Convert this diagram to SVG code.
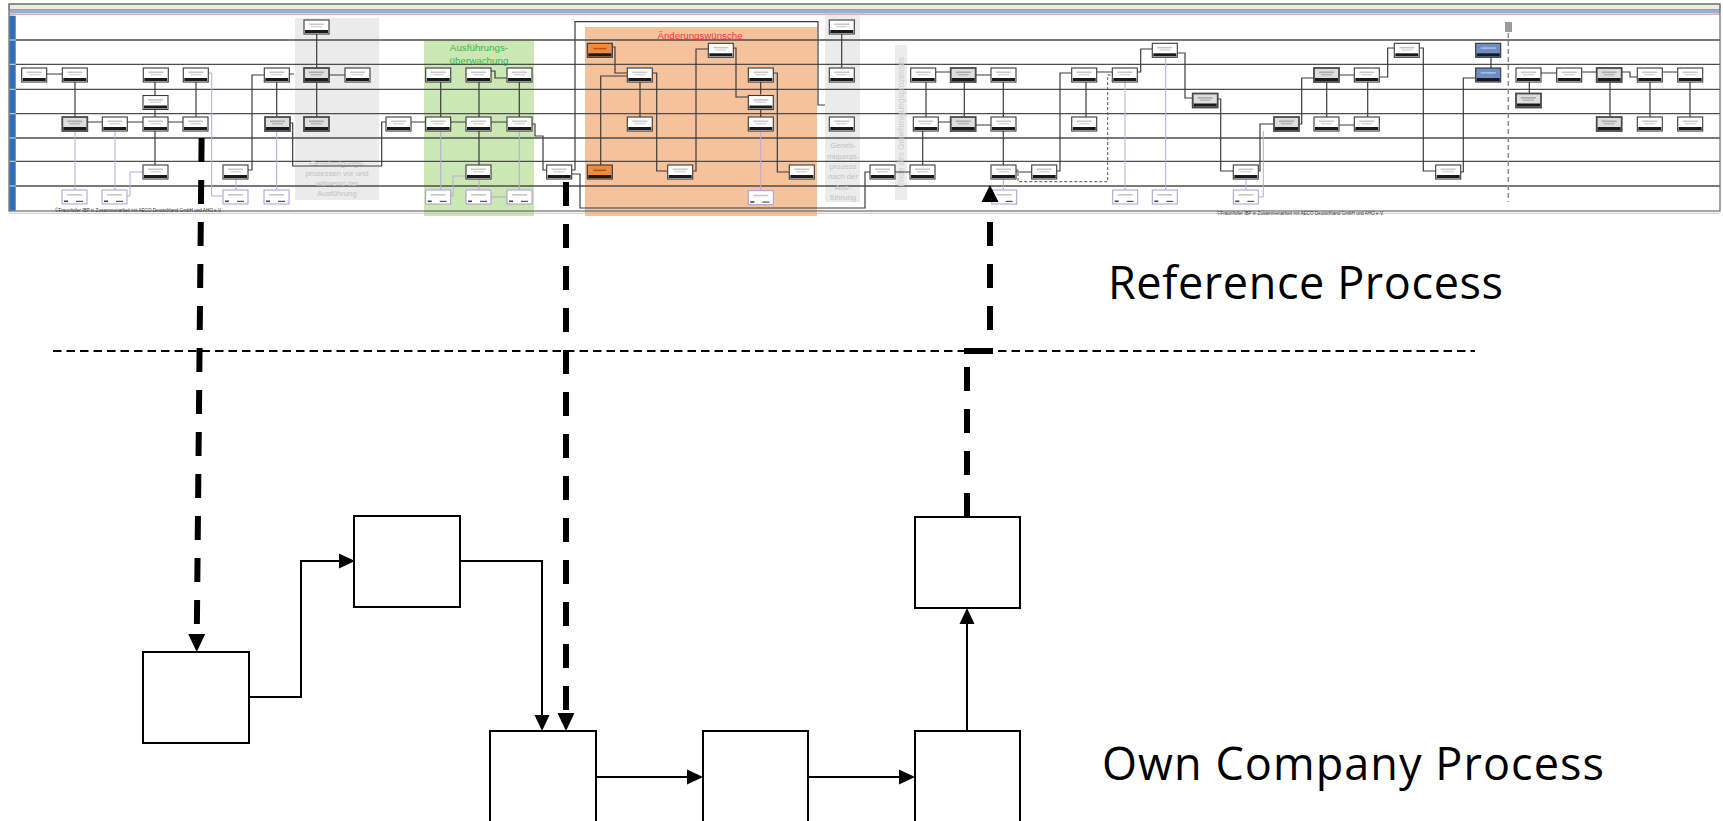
<svg xmlns="http://www.w3.org/2000/svg" xmlns:xlink="http://www.w3.org/1999/xlink" width="1723" height="821" viewBox="0 0 1723 821">
<defs>
<style>
.lane{stroke:#4d4d4d;stroke-width:1.3;fill:none}
.cn{stroke:#3c3c3c;stroke-width:1.2;fill:none}
.lv{stroke:#b7a9dc;stroke-width:1;fill:none}
.cnd{stroke:#555;stroke-width:1;fill:none;stroke-dasharray:3 2}
.nd{fill:#fff;stroke:#000;stroke-width:2}
.arr{stroke:#000;stroke-width:2;fill:none}
.bd{stroke:#000;stroke-width:6;fill:none;stroke-dasharray:24 18}
.hd{stroke:#000;stroke-width:1.8;fill:none;stroke-dasharray:8.5 5}
.big{font-family:"Open Sans","Noto Sans","Liberation Sans",sans-serif;font-size:45px;fill:#000}
.gt{font-family:"Liberation Sans",Arial,sans-serif;font-size:7.7px;fill:#c2c2c2;text-anchor:middle}
.cp{font-family:"Liberation Sans",Arial,sans-serif;font-size:4.6px;fill:#333}
</style>
<g id="bn"><rect width="25" height="14" fill="#fff" stroke="#3a3a3a" stroke-width="1.1"/><rect x="1" y="10" width="23" height="3" fill="#1a1a1a"/><rect x="5" y="3.5" width="15" height="1.6" fill="#c8c8c8"/><rect x="7" y="6" width="11" height="1.4" fill="#d6d6d6"/></g>
<g id="bg"><rect width="25" height="14" fill="#dedede" stroke="#4a4a4a" stroke-width="1.8"/><rect x="1" y="10" width="23" height="3" fill="#1a1a1a"/><rect x="5" y="3.5" width="15" height="1.6" fill="#aaa"/><rect x="7" y="6" width="11" height="1.4" fill="#b4b4b4"/></g>
<g id="bl"><rect width="25" height="14" fill="#fff" stroke="#a99ad6" stroke-width="1"/><rect x="2" y="10.5" width="4" height="1.6" fill="#444"/><rect x="14" y="10.8" width="7" height="1.1" fill="#444"/><rect x="5" y="4" width="15" height="1.6" fill="#c8c8c8"/></g>
<g id="bo"><rect width="25" height="14" fill="#f08a3c" stroke="#333" stroke-width="1.1"/><rect x="1" y="10" width="23" height="3" fill="#1a1a1a"/><rect x="6" y="4.5" width="13" height="1.6" fill="#b35a1a"/></g>
<g id="bb"><rect width="25" height="14" fill="#6e8fc4" stroke="#333" stroke-width="1.1"/><rect x="1" y="10" width="23" height="3" fill="#1a1a1a"/><rect x="5" y="4" width="15" height="1.6" fill="#a9bde0"/></g>
</defs>
<rect width="1723" height="821" fill="#fff"/>

<g id="reference-process-map">
  <rect x="9" y="4" width="1711" height="5.5" fill="#e7f0de" stroke="#777" stroke-width="0.8"/>
  <rect x="9" y="9.5" width="1711" height="4" fill="#98afd2"/>
  <line x1="9" y1="14.4" x2="1720" y2="14.4" stroke="#d8a49c" stroke-width="1"/>
  <rect id="area-genehmigung-vor" x="295" y="18" width="84" height="182" fill="#ebebeb"/>
  <rect id="area-ausfuehrung" x="424" y="40" width="110" height="176" fill="#cbe7b4"/>
  <rect id="area-aenderung" x="585" y="27" width="232" height="189" fill="#f6c29b"/>
  <rect id="area-genehmigung-nach" x="825" y="15" width="35" height="187" fill="#ebebeb"/>
  <rect id="area-ende" x="895" y="45" width="12" height="155" fill="#ececec"/>
  <rect x="9.3" y="15.7" width="6.4" height="195" fill="#2f6fb5"/>
  <g stroke="#fff" stroke-width="0.8"><line x1="9.3" y1="40" x2="15.7" y2="40"/><line x1="9.3" y1="64.3" x2="15.7" y2="64.3"/><line x1="9.3" y1="89.3" x2="15.7" y2="89.3"/><line x1="9.3" y1="113.7" x2="15.7" y2="113.7"/><line x1="9.3" y1="138" x2="15.7" y2="138"/><line x1="9.3" y1="161.3" x2="15.7" y2="161.3"/><line x1="9.3" y1="186" x2="15.7" y2="186"/></g>
  <path class="lane" d="M15.7 40H1720M15.7 64.3H1720M15.7 89.3H1720M15.7 113.7H1720M15.7 138H1720M15.7 161.3H1720M15.7 186H1720"/>
  <rect x="9" y="4" width="1711" height="207" fill="none" stroke="#6a6a6a" stroke-width="1.2"/>
  <line x1="9" y1="213.3" x2="1720" y2="213.3" stroke="#bbb" stroke-width="0.8"/>
  <text class="gt" x="337" y="166">Genehmigungs-</text>
  <text class="gt" x="337" y="176">prozessen vor und</text>
  <text class="gt" x="337" y="186">während der</text>
  <text class="gt" x="337" y="196">Ausführung</text>
  <text class="gt" x="843" y="148">Geneh-</text>
  <text class="gt" x="843" y="158.5">migungs-</text>
  <text class="gt" x="843" y="169">prozess</text>
  <text class="gt" x="843" y="179">nach der</text>
  <text class="gt" x="843" y="189.5">Aus-</text>
  <text class="gt" x="843" y="199.5">führung</text>
  <text class="gt" transform="translate(904 122) rotate(-90)" style="font-size:8.2px;fill:#cdcdcd">Ende des Genehmigungsprozesses</text>
  <text x="479" y="51" style="font-family:'Liberation Sans',Arial,sans-serif;font-size:9.8px;fill:#3cb54a;text-anchor:middle">Ausführungs-</text>
  <text x="479" y="63.5" style="font-family:'Liberation Sans',Arial,sans-serif;font-size:9.8px;fill:#3cb54a;text-anchor:middle">überwachung</text>
  <text x="700" y="38.5" style="font-family:'Liberation Sans',Arial,sans-serif;font-size:9.7px;fill:#e8393b;text-anchor:middle">Änderungswünsche</text>
  <text class="cp" x="55" y="212.3">©Fraunhofer IBP in Zusammenarbeit mit AECO Deutschland GmbH und AHO e.V.</text>
  <text class="cp" x="1217" y="215">©Fraunhofer IBP in Zusammenarbeit mit AECO Deutschland GmbH und AHO e.V.</text>

  <g id="map-connectors">
    <path class="lv" d="M75 131V190M115 131V190M127 196H130V172H143M208.3 73H211.7V196H223M236 179V190M276.7 131V190M440.7 131V190M479 179V190M519.3 131V190M450.7 196H453V176H466M491 197H507M760.7 131V190.7M1003.3 179V190M1125 82V190M1165.7 57V190M1246 179V190M1258.3 197H1263.3V131"/>
    <path class="cn" d="M45.7 74H62.3M75 82V117M87.3 122H102.3M127.3 122H143M168 122H183M155 82V95.5M155 109.5V117M155 131V165M196 82V117M248 170H252V75H264.3M276.7 82V117M289.3 74H294M290 123H292.7V166H381.7V122H386"/>
    <path class="cn" d="M316.7 33V68M316.7 82V117M329 75H345M410 122H425.7M450.7 122H466M491 122H507M440.7 82V117M479 82V117M479 131V165M519.3 82V117M491 71H495V78H507M532 124H535V136H543V170H546.7M571.7 170H575V21.7H818V105H825M571.7 174H580V208H865V172H870"/>
    <path class="cn" d="M612.3 47H615V73H627.3M627.3 76H600.7V165M640 82V117M652.3 73H656.7V171H667.7M693.3 171H696V49H708.3M733.3 48H736V97H748.3M760.7 82V94.5M760.7 108.5V117M773.3 73H777.3V172H789.3M841.7 34V68"/>
    <path class="cn" d="M894.3 172H910M926 82V117M922.7 131V165M935.7 72H950.7M975.7 75H991M938.3 122H950.7M975.7 125H991M964.3 82V117M1003.3 82V117M1003.3 131V165M1016 172H1031.7M1056.7 171H1060V73H1071.7M1086 82V117M1096.7 72H1112.3M1137.3 72H1140.7V49H1152.3"/>
    <path class="cnd" d="M1016 170H1018V181.7H1107.7V75H1112.3"/>
    <path class="cn" d="M1177.3 53H1185V98H1192.7M1218.3 99H1220.7V171H1233.3M1258.3 171H1260V124H1274M1299 124H1301.7V78H1314M1339 75H1354.3M1339 125H1354.3M1326.7 82V117M1367.7 82V117M1379.3 77H1387.7V48H1394.3"/>
    <path class="cn" d="M1419.3 48H1423.3V171H1435.7M1460.7 172H1463.3V78H1475.7M1491 57V68M1529.3 82V94M1541 73H1556.7M1581.7 72H1596.7M1621.7 72H1630V77H1637.3M1662.3 72H1677.7M1610 82V117M1650 82V117M1690 82V117"/>
    <path d="M1508.3 33V202" stroke="#8a8a8a" stroke-width="1.5" stroke-dasharray="5 3" fill="none"/>
    <rect x="1505" y="22" width="7" height="10" fill="#9a9a9a"/>
  </g>

  <g id="map-activities">
    <use xlink:href="#bn" x="21.7" y="68"/><use xlink:href="#bn" x="62.3" y="68"/><use xlink:href="#bn" x="143.3" y="68"/><use xlink:href="#bn" x="183.3" y="68"/><use xlink:href="#bn" x="264.3" y="68"/>
    <use xlink:href="#bn" x="143" y="95.5"/>
    <use xlink:href="#bg" x="62.3" y="117"/><use xlink:href="#bn" x="102.3" y="117"/><use xlink:href="#bn" x="143" y="117"/><use xlink:href="#bn" x="183" y="117"/><use xlink:href="#bg" x="265" y="117"/>
    <use xlink:href="#bn" x="143" y="165"/><use xlink:href="#bn" x="223" y="165"/>
    <use xlink:href="#bl" x="62" y="190"/><use xlink:href="#bl" x="102" y="190"/><use xlink:href="#bl" x="223" y="190"/><use xlink:href="#bl" x="264" y="190"/>

    <use xlink:href="#bn" x="304" y="20"/><use xlink:href="#bg" x="304" y="68"/><use xlink:href="#bn" x="345" y="68"/><use xlink:href="#bg" x="304" y="117"/><use xlink:href="#bn" x="386" y="117"/>
    <use xlink:href="#bn" x="425.7" y="68"/><use xlink:href="#bn" x="466" y="68"/><use xlink:href="#bn" x="507" y="68"/>
    <use xlink:href="#bn" x="425.7" y="117"/><use xlink:href="#bn" x="466" y="117"/><use xlink:href="#bn" x="507" y="117"/>
    <use xlink:href="#bn" x="466" y="165"/>
    <use xlink:href="#bl" x="425.7" y="190"/><use xlink:href="#bl" x="466" y="190"/><use xlink:href="#bl" x="507" y="190"/>
    <use xlink:href="#bn" x="546.7" y="165"/>

    <use xlink:href="#bo" x="587.3" y="43.3"/><use xlink:href="#bn" x="708.3" y="43.3"/>
    <use xlink:href="#bn" x="627.3" y="68"/><use xlink:href="#bn" x="748.3" y="68"/>
    <use xlink:href="#bn" x="748.3" y="95.5"/>
    <use xlink:href="#bn" x="627.3" y="117"/><use xlink:href="#bn" x="748.3" y="117"/>
    <use xlink:href="#bo" x="587.3" y="165"/><use xlink:href="#bn" x="667.7" y="165"/><use xlink:href="#bn" x="789.3" y="165"/>
    <use xlink:href="#bl" x="748.3" y="190.7"/>
    <use xlink:href="#bn" x="829.3" y="20"/><use xlink:href="#bn" x="829.3" y="68"/><use xlink:href="#bn" x="829.3" y="117"/>

    <use xlink:href="#bn" x="870" y="165"/><use xlink:href="#bn" x="910" y="165"/><use xlink:href="#bn" x="991" y="165"/><use xlink:href="#bn" x="1031.7" y="165"/>
    <use xlink:href="#bn" x="910.7" y="68"/><use xlink:href="#bg" x="950.7" y="68"/><use xlink:href="#bn" x="991" y="68"/><use xlink:href="#bn" x="1071.7" y="68"/><use xlink:href="#bn" x="1112.3" y="68"/>
    <use xlink:href="#bn" x="913.3" y="117"/><use xlink:href="#bg" x="950.7" y="117"/><use xlink:href="#bn" x="991" y="117"/><use xlink:href="#bn" x="1071.7" y="117"/>
    <use xlink:href="#bl" x="991.7" y="190"/><use xlink:href="#bl" x="1112.7" y="190"/>

    <use xlink:href="#bn" x="1152.3" y="43.3"/><use xlink:href="#bn" x="1394.3" y="43.3"/>
    <use xlink:href="#bg" x="1192.7" y="93.5"/>
    <use xlink:href="#bn" x="1233.3" y="165"/>
    <use xlink:href="#bg" x="1274" y="117"/><use xlink:href="#bn" x="1314" y="117"/><use xlink:href="#bn" x="1354.3" y="117"/>
    <use xlink:href="#bg" x="1314" y="68"/><use xlink:href="#bn" x="1354.3" y="68"/>
    <use xlink:href="#bl" x="1152.3" y="190"/><use xlink:href="#bl" x="1233.3" y="190"/>

    <use xlink:href="#bb" x="1475.7" y="43.3"/><use xlink:href="#bb" x="1475.7" y="68"/>
    <use xlink:href="#bn" x="1435.7" y="165"/>
    <use xlink:href="#bn" x="1516" y="68"/><use xlink:href="#bn" x="1556.7" y="68"/><use xlink:href="#bg" x="1596.7" y="68"/><use xlink:href="#bn" x="1637.3" y="68"/><use xlink:href="#bn" x="1677.7" y="68"/>
    <use xlink:href="#bg" x="1516" y="93.5"/>
    <use xlink:href="#bg" x="1596.7" y="117"/><use xlink:href="#bn" x="1637.3" y="117"/><use xlink:href="#bn" x="1677.7" y="117"/>
  </g>
</g>

<line class="hd" x1="53" y1="351" x2="1475" y2="351"/>
<text class="big" x="1108" y="299" textLength="395" lengthAdjust="spacing">Reference Process</text>
<text class="big" x="1102" y="780" textLength="502" lengthAdjust="spacing">Own Company Process</text>

<g id="connectors">
  <path class="arr" d="M249 697H301V561H340"/>
  <polygon points="355,561 339,553.5 339,568.5"/>
  <path class="arr" d="M461 561H542V716"/>
  <polygon points="542,731 534.5,715 549.5,715"/>
  <path class="arr" d="M597 777H688"/>
  <polygon points="703,777 687,769.5 687,784.5"/>
  <path class="arr" d="M808 777H900"/>
  <polygon points="915,777 899,769.5 899,784.5"/>
  <path class="arr" d="M967 731V624"/>
  <polygon points="967,608 959.5,624 974.5,624"/>
  <path class="bd" d="M201.6 138L196.8 634"/>
  <polygon points="196.7,652 188.2,634 205.2,634"/>
  <path class="bd" d="M566 182V713"/>
  <polygon points="566,731 557.5,713 574.5,713"/>
  <path class="bd" d="M967 517V351"/>
  <path d="M964 351H993" stroke="#000" stroke-width="6"/>
  <path class="bd" d="M990 222V351"/>
  <polygon points="990,185 981.5,202 998.5,202"/>
</g>

<g id="node-a"><rect class="nd" x="143" y="652" width="106" height="91"/></g>
<g id="node-b"><rect class="nd" x="354" y="516" width="106" height="91"/></g>
<g id="node-c"><rect class="nd" x="490" y="731" width="106" height="100"/></g>
<g id="node-d"><rect class="nd" x="703" y="731" width="105" height="100"/></g>
<g id="node-e"><rect class="nd" x="915" y="731" width="105" height="100"/></g>
<g id="node-f"><rect class="nd" x="915" y="517" width="105" height="91"/></g>
</svg>
